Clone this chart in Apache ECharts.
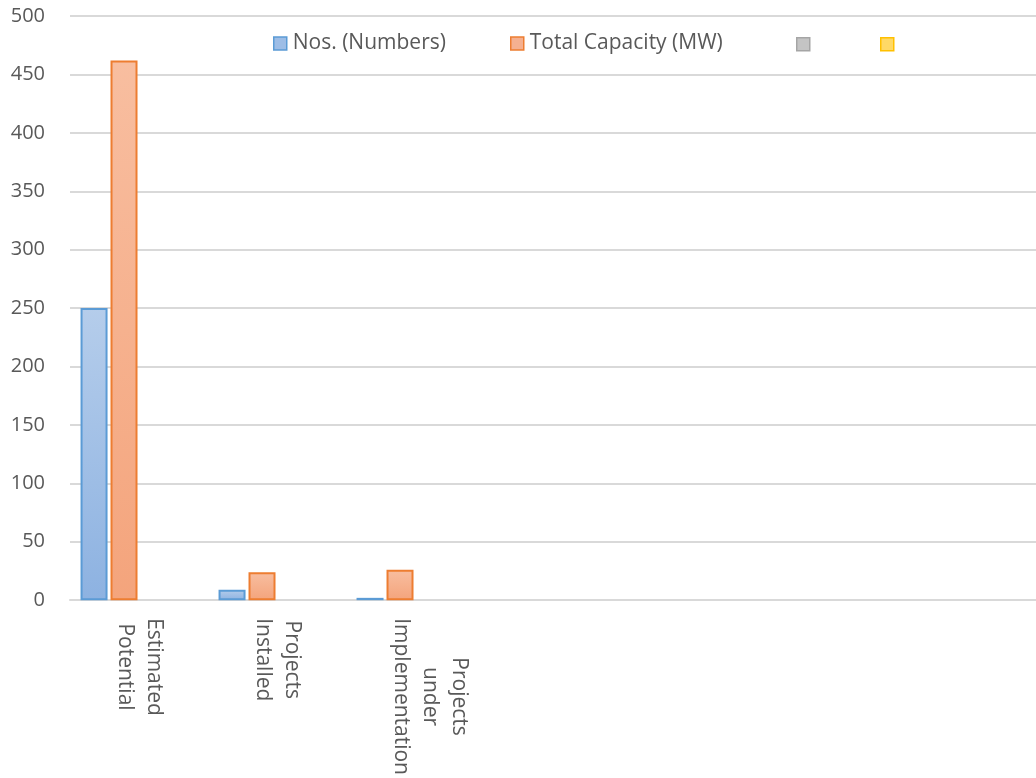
<!DOCTYPE html>
<html>
<head>
<meta charset="utf-8">
<script src="https://cdn.jsdelivr.net/npm/echarts@6/dist/echarts.min.js"></script>
<style>
html,body{margin:0;padding:0;background:#fff;}
#chart{width:1036px;height:778px;}
</style>
</head>
<body>
<div id="chart"></div>
<script>
const categories = ['Estimated\nPotential', 'Projects\nInstalled', 'Projects\nunder\nImplementation', '', '', '', ''];
const seriesNames = ['Nos. (Numbers)', 'Total Capacity (MW)', 'Series3', 'Series4'];
const nosValues = [250, 9, 2, null, null, null, null];
const capacityValues = [462, 24, 26, null, null, null, null];
const series3Values = [null, null, null, null, null, null, null];
const series4Values = [null, null, null, null, null, null, null];
const yTicks = [0, 50, 100, 150, 200, 250, 300, 350, 400, 450, 500];

const FONT = '"Open Sans", "Segoe UI", sans-serif';
const TXT = '#595959';

function grad(top, bottom) {
  return new echarts.graphic.LinearGradient(0, 0, 0, 1, [
    {offset: 0, color: top}, {offset: 1, color: bottom}
  ]);
}
const styles = [
  {fill: grad('#b5cdeb', '#8db2e1'), border: '#5b9bd5', legendFill: '#9dbde6'},
  {fill: grad('#f8bea0', '#f4a47c'), border: '#ed7d31', legendFill: '#f5b090'},
  {fill: grad('#d0d0d0', '#bdbdbd'), border: '#a5a5a5', legendFill: '#c4c4c4'},
  {fill: grad('#ffe08a', '#ffd24d'), border: '#ffc000', legendFill: '#ffd966'}
];
const dataSets = [nosValues, capacityValues, series3Values, series4Values];

const series = seriesNames.map((n, i) => ({
  name: n,
  type: 'bar',
  data: dataSets[i],
  barWidth: 27,
  barGap: '11%',
  itemStyle: {color: styles[i].fill, borderColor: styles[i].border, borderWidth: 2},
  emphasis: {disabled: true}
}));

const legendLefts = [273, 510, 796, 880];
const legendTops = [33, 33, 37, 37];
const legends = seriesNames.map((n, i) => ({
  data: [{name: n, itemStyle: {color: styles[i].legendFill, borderColor: styles[i].border, borderWidth: 1.5}}],
  left: legendLefts[i],
  top: legendTops[i],
  icon: 'rect',
  itemWidth: 13,
  itemHeight: 13,
  itemGap: 0,
  padding: 0,
  selectedMode: false,
  formatter: (name) => (i < 2 ? name : ''),
  textStyle: {color: TXT, fontSize: 21, fontFamily: FONT, padding: [0, 0, 0, 1]}
}));

const chart = echarts.init(document.getElementById('chart'), null, {renderer: 'canvas'});
chart.setOption({
  animation: false,
  backgroundColor: '#ffffff',
  legend: legends,
  grid: {left: 70, right: -14, top: 16, bottom: 177, containLabel: false},
  xAxis: {
    type: 'category',
    data: categories,
    axisLine: {show: true, lineStyle: {color: '#d9d9d9', width: 2}},
    axisTick: {show: false},
    axisLabel: {
      interval: 0,
      rotate: -90,
      margin: 18,
      color: TXT,
      fontSize: 21,
      fontFamily: FONT,
      formatter: (v) => {
        const lines = v.split('\n').map(l => '{c|' + l + '}');
        if (lines.length > 2) lines.push('{c|\u00a0}');
        return lines.join('\n');
      },
      rich: {c: {align: 'center', fontSize: 21, fontFamily: FONT, color: TXT, lineHeight: 29}}
    }
  },
  yAxis: {
    type: 'value',
    min: yTicks[0],
    max: yTicks[yTicks.length - 1],
    interval: yTicks[1] - yTicks[0],
    axisLine: {show: false},
    axisTick: {show: false},
    axisLabel: {color: TXT, fontSize: 20, fontFamily: FONT, margin: 25},
    splitLine: {lineStyle: {color: '#d9d9d9', width: 2}}
  },
  series: series
});
</script>
</body>
</html>
